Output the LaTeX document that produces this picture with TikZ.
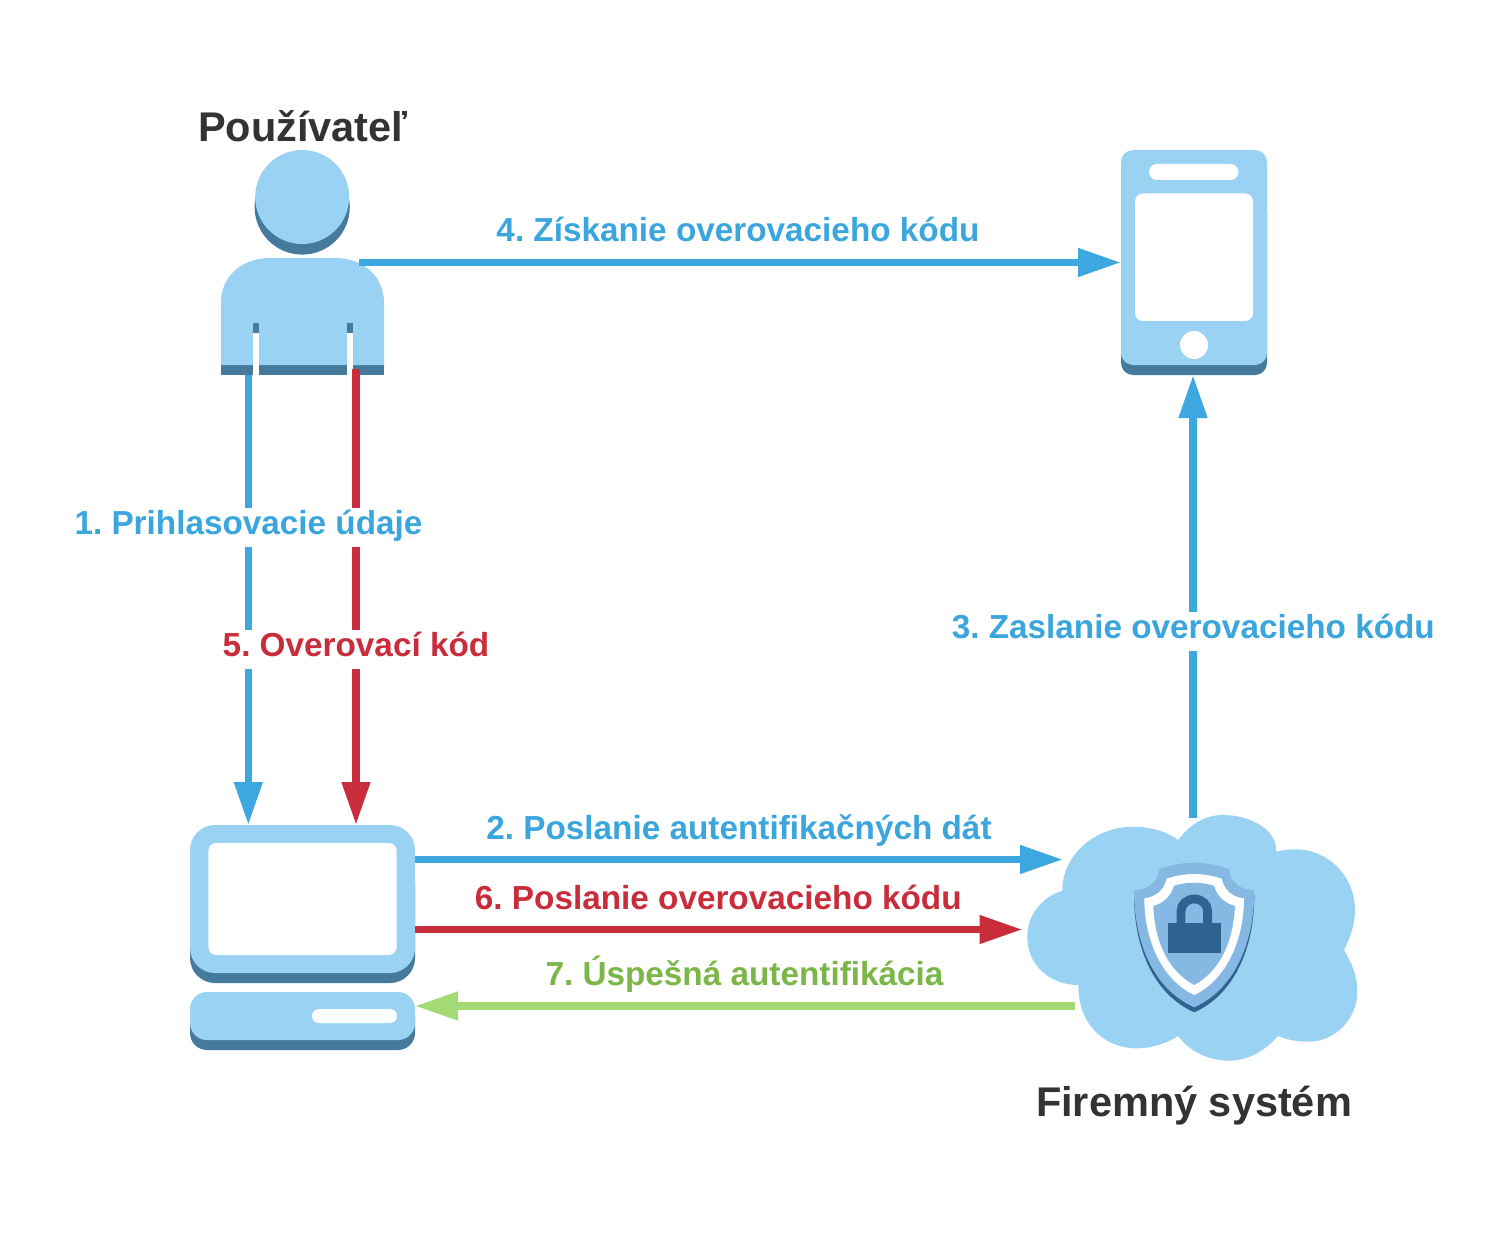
\documentclass[tikz,border=0pt]{standalone}
\usepackage{fontspec}
\setmainfont{Liberation Sans}
\usetikzlibrary{arrows.meta}
\frenchspacing
\definecolor{iconlight}{HTML}{9AD2F4}
\definecolor{icondark}{HTML}{467A9C}
\definecolor{cblue}{HTML}{3DA7E0}
\definecolor{cred}{HTML}{C92C3A}
\definecolor{cgreen}{HTML}{A4DA76}
\definecolor{tblue}{HTML}{3AA6DD}
\definecolor{tgreen}{HTML}{7AB648}
\definecolor{tdark}{HTML}{333333}
\definecolor{shlight}{HTML}{85B9E3}
\definecolor{shdark}{HTML}{2F628F}
\tikzset{
  iconbox/.style={inner sep=0pt,outer sep=0pt,draw=none,fill=none},
  arr/.style={line width=7.6pt,-{Triangle[length=43pt,width=27pt]}},
  lab/.style={anchor=base,inner sep=0pt,outer sep=0pt,font=\bfseries\fontsize{33.3}{33.3}\selectfont,fill=white,text height=26pt,text depth=13pt},
  title/.style={anchor=base,inner sep=0pt,outer sep=0pt,text=tdark,font=\bfseries\fontsize{41.5}{41.5}\selectfont},
}
\begin{document}
\begin{tikzpicture}[x=1pt,y=-1pt]
\useasboundingbox (0,0) rectangle (1509,1238);
\fill[white] (0,0) rectangle (1509,1238);
% anchor boxes of the four icons
\node[iconbox,minimum width=163pt,minimum height=225pt] (user) at (302.5,262.5) {};
\node[iconbox,minimum width=146pt,minimum height=225pt] (phone) at (1194,262.5) {};
\node[iconbox,minimum width=225pt,minimum height=225pt] (pc) at (302.5,937.5) {};
\node[iconbox,minimum width=330pt,minimum height=246pt] (cloud) at (1192,938) {};
% user icon
\fill[icondark] (302.2,207) circle (47.6);
\fill[iconlight] (302.2,197) circle (47);
\fill[icondark] (221,360) rectangle (384,375);
\fill[iconlight] (221,365) -- (221,303) .. controls (221,275) and (243,258) .. (270,258) -- (335,258) .. controls (362,258) and (384,275) .. (384,303) -- (384,365) -- cycle;
\fill[white] (253,323) rectangle (258.5,375);
\fill[white] (347,323) rectangle (353,375);
\fill[icondark] (253,323) rectangle (258.5,333);
\fill[icondark] (347,323) rectangle (353,333);
% phone icon
\fill[icondark,rounded corners=12pt] (1121,200) rectangle (1267,375);
\fill[iconlight,rounded corners=12pt] (1121,150) rectangle (1267,365);
\fill[white,rounded corners=8pt] (1149,164) rectangle (1238.5,180);
\fill[white,rounded corners=8pt] (1135,193.5) rectangle (1253,321);
\fill[white] (1194,345) circle (14);
% pc icon
\fill[icondark,rounded corners=25pt] (190,860) rectangle (415,983);
\fill[iconlight,rounded corners=25pt] (190,825) rectangle (415,973);
\fill[white,rounded corners=8pt] (208.3,843) rectangle (396.7,955);
\fill[icondark,rounded corners=17pt] (190,1000) rectangle (415,1050);
\fill[iconlight,rounded corners=17pt] (190,992) rectangle (415,1040);
\fill[white,rounded corners=7pt] (312,1009) rectangle (397,1023);
% connectors
\draw[arr,cblue] ([xshift=-54.2pt]user.south) -- ([xshift=-54.2pt]pc.north);
\draw[arr,cred] ([xshift=53.5pt,yshift=6pt]user.south) -- ([xshift=53.5pt]pc.north);
\draw[arr,cblue] ([xshift=-25pt]user.east) -- (phone.west);
\draw[arr,cblue] ([xshift=1pt,yshift=-3pt]cloud.north) -- ([xshift=-1pt]phone.south);
\draw[arr,cblue] ([yshift=78pt]pc.east) -- ([xshift=36pt,yshift=78.5pt]cloud.west);
\draw[arr,cred] ([yshift=8pt]pc.east) -- ([xshift=-4.5pt,yshift=8.5pt]cloud.west);
\draw[arr,cgreen] ([xshift=48pt,yshift=-68pt]cloud.west) -- ([yshift=-68.5pt]pc.east);
% cloud icon
\fill[iconlight] (1178.3,840)
 .. controls (1190,824) and (1205,815) .. (1223.3,815)
 .. controls (1250,815) and (1278,830) .. (1276,851.7)
 .. controls (1283,850) and (1289,849.3) .. (1295,849.3)
 .. controls (1329,849.3) and (1355,877) .. (1355,910)
 .. controls (1355,925) and (1350,938) .. (1344,950)
 .. controls (1351,962) and (1357.3,975) .. (1357.3,991.7)
 .. controls (1357.3,1018) and (1336,1041.7) .. (1308.3,1041.7)
 .. controls (1298,1041.7) and (1288,1040) .. (1277.7,1036)
 .. controls (1265,1051) and (1248,1060.7) .. (1228.3,1060.7)
 .. controls (1208,1060.7) and (1188,1050) .. (1178.3,1036)
 .. controls (1167,1043) and (1152,1048.3) .. (1136.7,1048.3)
 .. controls (1105,1048.3) and (1078,1025) .. (1078.3,985)
 .. controls (1050,985) and (1027,965) .. (1027.3,936.7)
 .. controls (1027,915) and (1042,897) .. (1062.3,890.7)
 .. controls (1062,855) and (1095,826.7) .. (1133.3,826.7)
 .. controls (1150,826.7) and (1168,832) .. (1178.3,840) -- cycle;
% shield
\fill[shdark] (1134,895) .. controls (1134,950) and (1155,995) .. (1194.3,1012.3) .. controls (1233,995) and (1254.3,950) .. (1254.3,895) -- cycle;
\fill[shlight] (1159,869.3) .. controls (1170,865) and (1182,862.7) .. (1194,862.7) .. controls (1206,862.7) and (1218,865) .. (1229.3,869.3)
 .. controls (1230,882) and (1240,890) .. (1254.3,890)
 .. controls (1254.3,945) and (1233,990) .. (1194.3,1007.3)
 .. controls (1155,990) and (1134,945) .. (1134,890)
 .. controls (1148,890) and (1158,882) .. (1159,869.3) -- cycle;
\fill[white] (1166.7,878.7) .. controls (1176,875.5) and (1185,874) .. (1194,874) .. controls (1203,874) and (1212,875.5) .. (1221.7,878.7)
 .. controls (1224,890) and (1232,897) .. (1244,898.3)
 .. controls (1244,940) and (1226,980) .. (1194.3,995)
 .. controls (1162,980) and (1144.3,940) .. (1144.3,898.3)
 .. controls (1156,897) and (1164,890) .. (1166.7,878.7) -- cycle;
\fill[shlight] (1174,885.7) .. controls (1181,883.7) and (1187,882.7) .. (1194,882.7) .. controls (1201,882.7) and (1207,883.7) .. (1214,885.7)
 .. controls (1217,896) and (1224,903) .. (1235,906)
 .. controls (1233,945) and (1218,972) .. (1194.3,985)
 .. controls (1170,972) and (1155,945) .. (1153.3,906)
 .. controls (1164,903) and (1171,896) .. (1174,885.7) -- cycle;
\fill[shdark] (1167.7,923.3) rectangle (1221,953.3);
\draw[shdark,line width=8.8pt] (1181,925) -- (1181,911) arc[start angle=180,end angle=360,x radius=13.3pt,y radius=-12pt] -- (1207.6,925);
% labels
\node[lab,text=tblue] (l1) at (248.5,534) {1. Prihlasovacie údaje};
\node[lab,text=cred] (l5) at (356,656) {5. Overovací kód};
\node[lab,text=tblue] (l3) at (1193.3,638) {3. Zaslanie overovacieho kódu};
\node[lab,text=tblue] (l4) at (738,242) {4. Získanie overovacieho kódu};
\node[lab,text=tblue] (l2) at (739,839.5) {2. Poslanie autentifikačných dát};
\node[lab,text=cred] (l6) at (718.3,909) {6. Poslanie overovacieho kódu};
\node[lab,text=tgreen] (l7) at (744.5,985) {7. Úspešná autentifikácia};
\node[title] (tuser) at (303,141.5) {Používateľ};
\node[title] (tcloud) at (1194,1116) {Firemný systém};
\end{tikzpicture}
\end{document}
